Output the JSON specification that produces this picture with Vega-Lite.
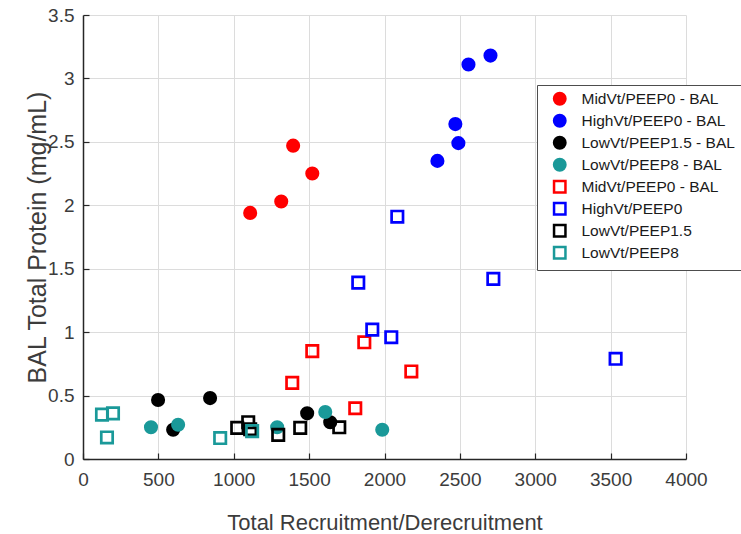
{
  "$schema": "https://vega.github.io/schema/vega-lite/v6.json",
  "width": 603,
  "height": 444,
  "autosize": {"type": "none"},
  "padding": {"left": 83, "top": 15, "right": 55, "bottom": 75},
  "background": "white",
  "config": {
    "view": {"stroke": null},
    "font": "Liberation Sans",
    "legend": {
      "orient": "none",
      "legendX": 454,
      "legendY": 70,
      "padding": 6,
      "symbolOffset": 9,
      "labelOffset": 14,
      "labelFontSize": 15.5,
      "labelFont": "Liberation Sans",
      "labelColor": "#1a1a1a",
      "rowPadding": 0,
      "strokeColor": "#4d4d4d",
      "fillColor": "white",
      "symbolStrokeWidth": 2.5,
      "symbolOpacity": 1
    }
  },
  "data": {
    "values": [
      {"series": "MidVt/PEEP0 - BAL", "recruitment": 1109, "protein": 1.94},
      {"series": "MidVt/PEEP0 - BAL", "recruitment": 1315, "protein": 2.03},
      {"series": "MidVt/PEEP0 - BAL", "recruitment": 1394, "protein": 2.47},
      {"series": "MidVt/PEEP0 - BAL", "recruitment": 1521, "protein": 2.25},
      {"series": "HighVt/PEEP0 - BAL", "recruitment": 2351, "protein": 2.35},
      {"series": "HighVt/PEEP0 - BAL", "recruitment": 2470, "protein": 2.64},
      {"series": "HighVt/PEEP0 - BAL", "recruitment": 2490, "protein": 2.49},
      {"series": "HighVt/PEEP0 - BAL", "recruitment": 2557, "protein": 3.11},
      {"series": "HighVt/PEEP0 - BAL", "recruitment": 2703, "protein": 3.18},
      {"series": "LowVt/PEEP1.5 - BAL", "recruitment": 498, "protein": 0.465},
      {"series": "LowVt/PEEP1.5 - BAL", "recruitment": 843, "protein": 0.48},
      {"series": "LowVt/PEEP1.5 - BAL", "recruitment": 598, "protein": 0.23},
      {"series": "LowVt/PEEP1.5 - BAL", "recruitment": 1487, "protein": 0.36},
      {"series": "LowVt/PEEP1.5 - BAL", "recruitment": 1640, "protein": 0.29},
      {"series": "LowVt/PEEP8 - BAL", "recruitment": 451, "protein": 0.25},
      {"series": "LowVt/PEEP8 - BAL", "recruitment": 631, "protein": 0.27},
      {"series": "LowVt/PEEP8 - BAL", "recruitment": 1288, "protein": 0.25},
      {"series": "LowVt/PEEP8 - BAL", "recruitment": 1607, "protein": 0.37},
      {"series": "LowVt/PEEP8 - BAL", "recruitment": 1985, "protein": 0.23},
      {"series": "MidVt/PEEP0 - BAL ", "recruitment": 1388, "protein": 0.6},
      {"series": "MidVt/PEEP0 - BAL ", "recruitment": 1521, "protein": 0.85},
      {"series": "MidVt/PEEP0 - BAL ", "recruitment": 1866, "protein": 0.92},
      {"series": "MidVt/PEEP0 - BAL ", "recruitment": 1806, "protein": 0.4},
      {"series": "MidVt/PEEP0 - BAL ", "recruitment": 2178, "protein": 0.69},
      {"series": "HighVt/PEEP0", "recruitment": 2085, "protein": 1.91},
      {"series": "HighVt/PEEP0", "recruitment": 1826, "protein": 1.39},
      {"series": "HighVt/PEEP0", "recruitment": 1919, "protein": 1.02},
      {"series": "HighVt/PEEP0", "recruitment": 2045, "protein": 0.96},
      {"series": "HighVt/PEEP0", "recruitment": 2722, "protein": 1.42},
      {"series": "HighVt/PEEP0", "recruitment": 3533, "protein": 0.79},
      {"series": "LowVt/PEEP1.5", "recruitment": 1023, "protein": 0.245},
      {"series": "LowVt/PEEP1.5", "recruitment": 1096, "protein": 0.29},
      {"series": "LowVt/PEEP1.5", "recruitment": 1109, "protein": 0.235},
      {"series": "LowVt/PEEP1.5", "recruitment": 1295, "protein": 0.19},
      {"series": "LowVt/PEEP1.5", "recruitment": 1441, "protein": 0.245},
      {"series": "LowVt/PEEP1.5", "recruitment": 1700, "protein": 0.25},
      {"series": "LowVt/PEEP8", "recruitment": 126, "protein": 0.35},
      {"series": "LowVt/PEEP8", "recruitment": 199, "protein": 0.36},
      {"series": "LowVt/PEEP8", "recruitment": 159, "protein": 0.17},
      {"series": "LowVt/PEEP8", "recruitment": 910, "protein": 0.165},
      {"series": "LowVt/PEEP8", "recruitment": 1122, "protein": 0.22}
    ]
  },
  "mark": {"type": "point", "strokeWidth": 2.7, "opacity": 1},
  "encoding": {
    "x": {
      "field": "recruitment",
      "type": "quantitative",
      "scale": {"domain": [0, 4000], "nice": false, "zero": false},
      "axis": {
        "title": "Total Recruitment/Derecruitment",
        "values": [0, 500, 1000, 1500, 2000, 2500, 3000, 3500, 4000],
        "format": "d",
        "labelFlush": false,
        "labelOverlap": false,
        "tickSize": -6,
        "labelPadding": 17,
        "labelFontSize": 19,
        "labelFont": "Liberation Sans",
        "labelColor": "#3c3c3c",
        "titleFont": "Liberation Sans",
        "titleFontSize": 22,
        "titleFontWeight": "normal",
        "titleColor": "#3c3c3c",
        "titleY": 70,
        "titleBaseline": "alphabetic",
        "domainColor": "#262626",
        "domainWidth": 1.5,
        "tickColor": "#262626",
        "tickWidth": 1.2,
        "gridColor": "#dcdcdc",
        "gridWidth": 1
      }
    },
    "y": {
      "field": "protein",
      "type": "quantitative",
      "scale": {"domain": [0, 3.5], "nice": false, "zero": false},
      "axis": {
        "title": "BAL Total Protein (mg/mL)",
        "values": [0, 0.5, 1, 1.5, 2, 2.5, 3, 3.5],
        "format": "~g",
        "labelOverlap": false,
        "labelFlush": false,
        "tickSize": -6,
        "labelPadding": 15,
        "labelFontSize": 19,
        "labelFont": "Liberation Sans",
        "labelColor": "#3c3c3c",
        "titleFont": "Liberation Sans",
        "titleFontSize": 25,
        "titleFontWeight": "normal",
        "titleColor": "#3c3c3c",
        "titleX": -37.5,
        "titleBaseline": "alphabetic",
        "domainColor": "#262626",
        "domainWidth": 1.5,
        "tickColor": "#262626",
        "tickWidth": 1.2,
        "gridColor": "#dcdcdc",
        "gridWidth": 1
      }
    },
    "stroke": {
      "field": "series",
      "type": "nominal",
      "scale": {
        "domain": ["MidVt/PEEP0 - BAL", "HighVt/PEEP0 - BAL", "LowVt/PEEP1.5 - BAL", "LowVt/PEEP8 - BAL", "MidVt/PEEP0 - BAL ", "HighVt/PEEP0", "LowVt/PEEP1.5", "LowVt/PEEP8"],
        "range": ["#ff0000", "#0000ff", "#000000", "#1a9999", "#ff0000", "#0000ff", "#000000", "#1a9999"]
      },
      "legend": {"title": null}
    },
    "fill": {
      "field": "series",
      "type": "nominal",
      "scale": {
        "domain": ["MidVt/PEEP0 - BAL", "HighVt/PEEP0 - BAL", "LowVt/PEEP1.5 - BAL", "LowVt/PEEP8 - BAL", "MidVt/PEEP0 - BAL ", "HighVt/PEEP0", "LowVt/PEEP1.5", "LowVt/PEEP8"],
        "range": ["#ff0000", "#0000ff", "#000000", "#1a9999", "transparent", "transparent", "transparent", "transparent"]
      },
      "legend": {"title": null}
    },
    "shape": {
      "field": "series",
      "type": "nominal",
      "scale": {
        "domain": ["MidVt/PEEP0 - BAL", "HighVt/PEEP0 - BAL", "LowVt/PEEP1.5 - BAL", "LowVt/PEEP8 - BAL", "MidVt/PEEP0 - BAL ", "HighVt/PEEP0", "LowVt/PEEP1.5", "LowVt/PEEP8"],
        "range": ["circle", "circle", "circle", "circle", "square", "square", "square", "square"]
      },
      "legend": {"title": null}
    },
    "size": {
      "field": "series",
      "type": "nominal",
      "scale": {
        "domain": ["MidVt/PEEP0 - BAL", "HighVt/PEEP0 - BAL", "LowVt/PEEP1.5 - BAL", "LowVt/PEEP8 - BAL", "MidVt/PEEP0 - BAL ", "HighVt/PEEP0", "LowVt/PEEP1.5", "LowVt/PEEP8"],
        "range": [130, 130, 130, 130, 90, 90, 90, 90]
      },
      "legend": {"title": null}
    }
  }
}
